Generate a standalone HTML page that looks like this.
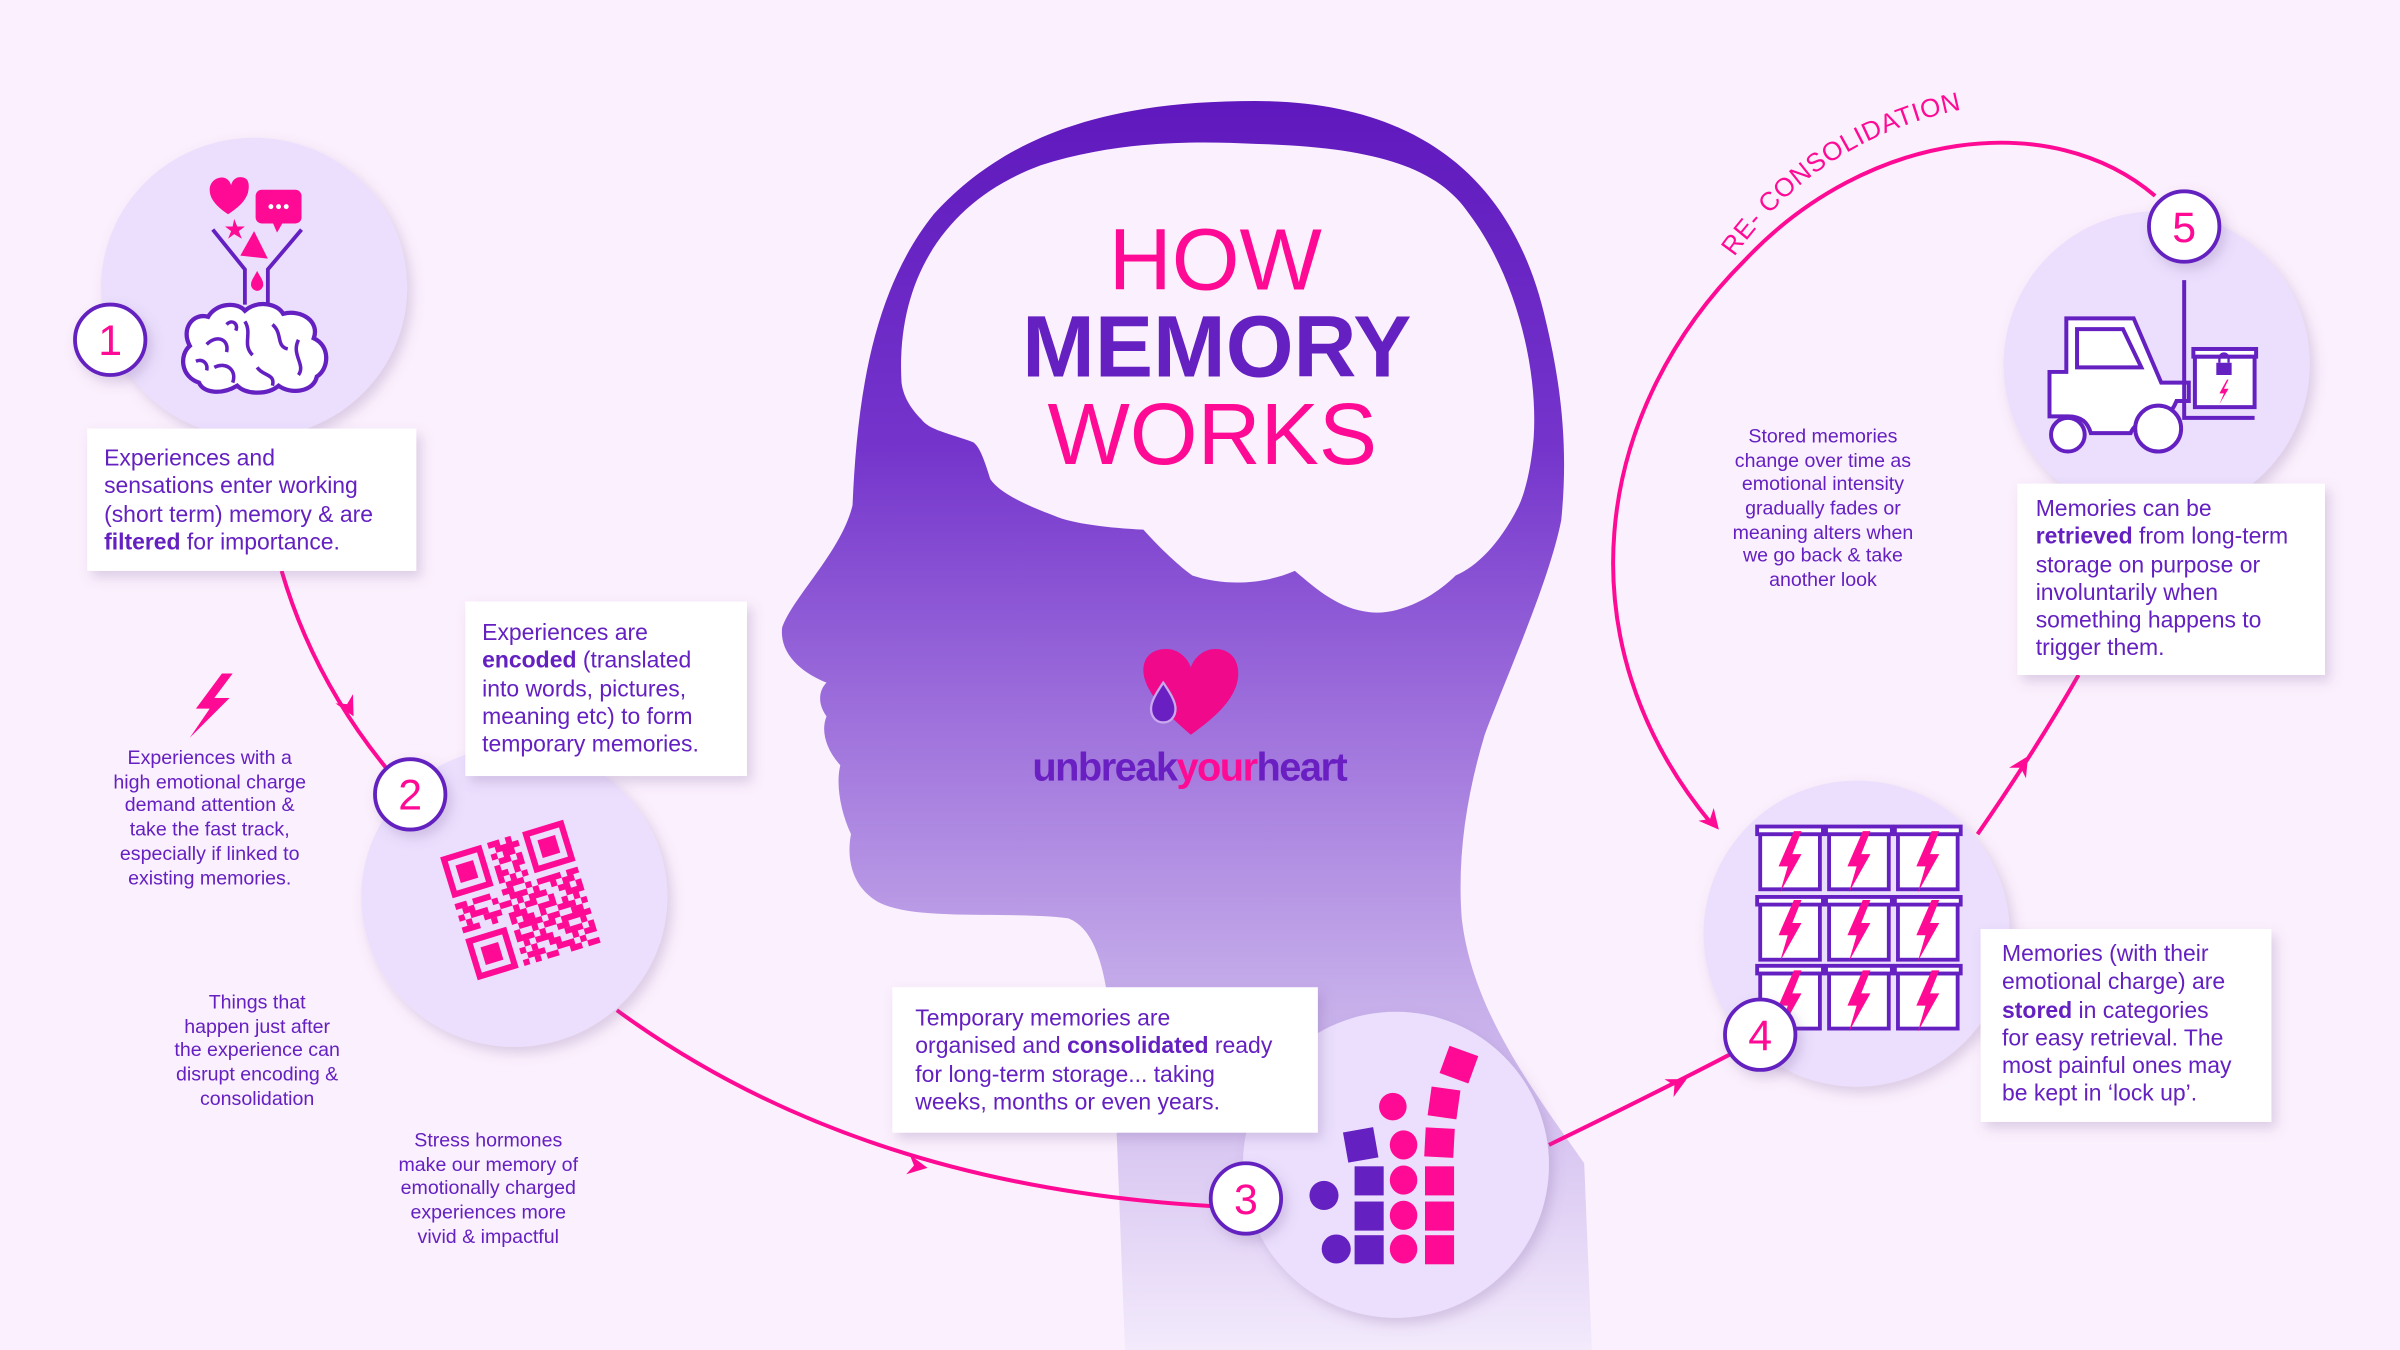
<!DOCTYPE html>
<html><head><meta charset="utf-8">
<style>
html,body{margin:0;padding:0;background:#fbf0fd;}
svg{display:block;}
text{font-family:"Liberation Sans",sans-serif;}
</style></head>
<body>
<svg width="2400" height="1350" viewBox="0 0 1568 882" xmlns="http://www.w3.org/2000/svg">
<defs>
<linearGradient id="hg" x1="0" y1="0" x2="0" y2="1" gradientUnits="objectBoundingBox">
<stop offset="0" stop-color="#5f18bd"/>
<stop offset="0.28" stop-color="#7535cc"/>
<stop offset="0.5" stop-color="#9f72dc"/>
<stop offset="0.72" stop-color="#c6aeea"/>
<stop offset="1" stop-color="#f3eafc"/>
</linearGradient>
<filter id="sh" x="-20%" y="-20%" width="150%" height="150%">
<feDropShadow dx="3" dy="4" stdDeviation="4" flood-color="#7a5a9a" flood-opacity="0.25"/>
</filter>
<path id="bolt" d="M3,-20 L-7,3 L-1,3 L-6,20 L8,-5 L2,-5 L8,-20 Z"/>
<path id="ah" d="M0,0 L-13,-6.5 L-9,0 L-13,6.5 Z"/>
<path id="rcpath" d="M1133,168 C1168,118 1220,82 1290,70"/>
</defs>
<rect width="1568" height="882" fill="#fbf0fd"/>

<!-- head -->
<path d="M735,882 L728,700 C725,640 718,608 698,600 C660,595 600,602 575,590 C556,580 553,560 556,545 C549,530 546,512 549,500 C540,490 536,478 540,468 C533,458 536,450 540,446 C525,440 509,428 511,410 C518,390 550,360 557,330 C560,260 570,190 610,140 C660,85 730,66 820,66 C930,66 990,120 1010,210 C1022,260 1024,300 1020,340 C1012,380 985,440 970,480 C958,520 952,560 955,600 C962,660 1000,710 1035,760 L1040,882 Z" fill="url(#hg)"/>
<path d="M589,250 C585,180 620,130 680,108 C730,92 780,92 820,94 C900,96 940,110 960,140 C990,180 1005,240 1002,286 C1000,310 995,325 992,331 C980,355 965,370 951,376 C935,392 912,402 895,400 C875,398 860,385 846,373 C825,382 800,383 779,376 C768,368 755,355 747,346 C725,345 700,342 689,337 C670,330 653,322 647,313 C643,300 640,292 636,289 C620,283 607,281 602,274 C594,266 590,258 589,250 Z" fill="#fbf0fd"/>

<text x="794" y="189" text-anchor="middle" font-size="57" fill="#ff0a94">HOW</text>
<text x="795" y="246" text-anchor="middle" font-size="57" font-weight="bold" fill="#6420c0">MEMORY</text>
<text x="792" y="303" text-anchor="middle" font-size="57" fill="#ff0a94">WORKS</text>

<!-- logo -->
<path d="M778,480 C760,465 747,450 747,438 C747,428 754,424 762,424 C770,424 776,430 778,436 C780,430 786,424 794,424 C803,424 809,430 809,440 C809,455 795,468 778,480 Z" fill="#f0098a"/>
<path d="M760,446 C756,452 752,458 752,463 C752,469 756,472 760,472 C764,472 768,469 768,463 C768,458 764,452 760,446 Z" fill="#6a1fc2" stroke="#c9a8ee" stroke-width="1.5"/>
<text x="777" y="510" text-anchor="middle" font-size="26" font-weight="bold" letter-spacing="-1"><tspan fill="#6a1fc2">unbreak</tspan><tspan fill="#ff0a94">your</tspan><tspan fill="#6a1fc2">heart</tspan></text>

<!-- connectors -->
<g fill="none" stroke="#ff0a94" stroke-width="2.6">
<path d="M184,373 Q205,445 255,505"/>
<path d="M403,660 Q560,775 792,788"/>
<path d="M1012,748 Q1080,715 1132,688"/>
<path d="M1292,545 Q1330,490 1358,441"/>
<path d="M1408,128 C1340,70 1220,85 1140,170 C1040,270 1020,420 1118,538"/>
</g>
<g fill="#ff0a94">
<use href="#ah" transform="translate(231,468) rotate(62)"/>
<use href="#ah" transform="translate(606,763) rotate(10)"/>
<use href="#ah" transform="translate(1102,705) rotate(-27)"/>
<use href="#ah" transform="translate(1325,494) rotate(-58)"/>
<use href="#ah" transform="translate(1123,542) rotate(50)"/>
</g>
<text font-size="17" fill="#ff0a94" letter-spacing="0.5"><textPath href="#rcpath">RE- CONSOLIDATION</textPath></text>

<!-- circles -->
<g fill="#ebdffd" filter="url(#sh)">
<ellipse cx="166" cy="188" rx="100" ry="98"/>
<ellipse cx="336" cy="586" rx="100" ry="98"/>
<ellipse cx="912" cy="761" rx="100" ry="100"/>
<ellipse cx="1213" cy="610" rx="100" ry="100"/>
<ellipse cx="1409" cy="238" rx="100" ry="100"/>
</g>

<!-- icon 1 -->
<g>
<path d="M149,140 C140,134 137,129 137,124 C137,119 141,116 145,116 C148,116 150,118 151,121 C152,117 155,115 159,116 C163,117 163,122 162,126 C160,132 155,136 149,140 Z" fill="#ff0a94"/>
<rect x="167" y="124" width="30" height="22" rx="4" fill="#ff0a94"/>
<path d="M178,145 L181,152 L185,145 Z" fill="#ff0a94"/>
<circle cx="177" cy="135" r="1.6" fill="#fff"/><circle cx="182" cy="135" r="1.6" fill="#fff"/><circle cx="187" cy="135" r="1.6" fill="#fff"/>
<path d="M153,143 L155,148 L160,148 L156,151 L158,156 L153,153 L149,156 L151,151 L147,148 L152,148 Z" fill="#ff0a94"/>
<path d="M166,151 L175,169 L157,167 Z" fill="#ff0a94"/>
<path d="M168,177 C166,181 164,183 164,186 C164,188 166,190 168,190 C170,190 172,188 172,186 C172,183 170,181 168,177 Z" fill="#ff0a94"/>
<path d="M139,150 L160,176 L160,199 M197,150 L175,176 L175,199" fill="none" stroke="#6420c0" stroke-width="2.5"/>
<path d="M130,250 C118,246 117,232 124,226 C118,215 126,204 136,207 C141,198 155,197 160,203 C168,196 181,198 185,205 C197,202 209,210 205,221 C216,226 215,241 207,246 C205,256 190,258 182,252 C175,258 161,258 155,252 C145,258 133,257 130,250 Z" fill="#fff" stroke="#6420c0" stroke-width="2.8"/>
<path d="M135,225 C142,218 150,222 148,230 M160,210 C165,218 158,225 165,232 M178,212 C185,218 180,226 188,228 M195,222 C190,232 200,238 195,245 M140,240 C148,236 155,242 152,250 M168,240 C172,246 180,244 178,252 M128,236 C133,234 136,238 135,242 M148,212 C152,208 156,212 154,216" fill="none" stroke="#6420c0" stroke-width="2.3"/>
</g>

<!-- icon 2 QR -->
<g transform="translate(340,588) rotate(-17) translate(-42,-42) scale(4)" fill="#ff0a94">
<path d="M0,0h7v7h-7z M1,1v5h5v-5z" fill-rule="evenodd"/><rect x="2" y="2" width="3" height="3"/>
<path d="M14,0h7v7h-7z M15,1v5h5v-5z" fill-rule="evenodd"/><rect x="16" y="2" width="3" height="3"/>
<path d="M0,14h7v7h-7z M1,15v5h5v-5z" fill-rule="evenodd"/><rect x="2" y="16" width="3" height="3"/>
<path d="M8,0h2v1h-2z M11,0h1v1h-1z M9,1h1v1h-1z M10,1h3v1h-3z M8,2h1v1h-1z M10,2h2v1h-2z M9,3h2v1h-2z M12,3h1v1h-1z M8,4h1v1h-1z M11,4h2v1h-2z M8,5h2v1h-2z M11,5h1v1h-1z M8,6h1v1h-1z M10,6h1v1h-1z M12,6h1v1h-1z M9,7h3v1h-3z
M0,8h2v1h-2z M3,8h3v1h-3z M8,8h2v1h-2z M12,8h1v1h-1z M14,8h4v1h-4z M19,8h2v1h-2z
M1,9h2v1h-2z M6,9h1v1h-1z M9,9h3v1h-3z M13,9h1v1h-1z M16,9h1v1h-1z M18,9h2v1h-2z
M0,10h1v1h-1z M2,10h3v1h-3z M7,10h2v1h-2z M10,10h1v1h-1z M12,10h3v1h-3z M17,10h2v1h-2z M20,10h1v1h-1z
M1,11h1v1h-1z M4,11h3v1h-3z M9,11h1v1h-1z M11,11h2v1h-2z M15,11h1v1h-1z M18,11h3v1h-3z
M0,12h3v1h-3z M5,12h1v1h-1z M8,12h3v1h-3z M13,12h3v1h-3z M17,12h1v1h-1z M19,12h1v1h-1z
M8,13h1v1h-1z M10,13h2v1h-2z M13,13h1v1h-1z M16,13h3v1h-3z M20,13h1v1h-1z
M9,14h4v1h-4z M14,14h2v1h-2z M18,14h2v1h-2z
M8,15h1v1h-1z M11,15h1v1h-1z M13,15h2v1h-2z M16,15h5v1h-5z
M8,16h3v1h-3z M12,16h1v1h-1z M15,16h2v1h-2z M19,16h1v1h-1z
M9,17h1v1h-1z M11,17h3v1h-3z M16,17h3v1h-3z M20,17h1v1h-1z
M8,18h1v1h-1z M10,18h1v1h-1z M13,18h2v1h-2z M17,18h1v1h-1z M19,18h2v1h-2z
M9,19h3v1h-3z M14,19h3v1h-3z M18,19h1v1h-1z
M8,20h1v1h-1z M10,20h1v1h-1z M12,20h2v1h-2z M16,20h2v1h-2z M19,20h2v1h-2z"/>
</g>

<!-- icon 3 blocks -->
<g>
<g fill="#6420c0">
<rect x="885" y="762" width="19" height="19"/><rect x="885" y="785" width="19" height="19"/><rect x="885" y="807" width="19" height="19"/>
<rect x="879" y="738" width="20" height="20" transform="rotate(-10 889 748)"/>
<ellipse cx="865" cy="781" rx="9.5" ry="9.5"/><ellipse cx="873" cy="816" rx="9.5" ry="9.5"/>
</g>
<g fill="#ff0a94">
<ellipse cx="917" cy="771" rx="9" ry="9.5"/><ellipse cx="917" cy="794" rx="9" ry="9.5"/><ellipse cx="917" cy="816" rx="9" ry="9.5"/><ellipse cx="917" cy="748" rx="9" ry="9.5"/><ellipse cx="910" cy="723" rx="9" ry="9"/>
<rect x="931" y="762" width="19" height="19"/><rect x="931" y="785" width="19" height="19"/><rect x="931" y="807" width="19" height="19"/>
<rect x="931" y="737" width="19" height="19" transform="rotate(3 940 746)"/>
<rect x="934" y="711" width="19" height="19" transform="rotate(8 943 720)"/>
<rect x="943" y="686" width="20" height="19" transform="rotate(20 953 696)"/>
</g>
</g>

<!-- icon 4 jars -->
<g>
<g fill="#fff" stroke="#6420c0" stroke-width="2.5">
<rect x="1150" y="545" width="39" height="36"/><rect x="1195" y="545" width="39" height="36"/><rect x="1240" y="545" width="39" height="36"/>
<rect x="1150" y="591" width="39" height="36"/><rect x="1195" y="591" width="39" height="36"/><rect x="1240" y="591" width="39" height="36"/>
<rect x="1150" y="636" width="39" height="36"/><rect x="1195" y="636" width="39" height="36"/><rect x="1240" y="636" width="39" height="36"/>
<rect x="1148" y="540" width="43" height="5"/><rect x="1193" y="540" width="43" height="5"/><rect x="1238" y="540" width="43" height="5"/>
<rect x="1148" y="586" width="43" height="5"/><rect x="1193" y="586" width="43" height="5"/><rect x="1238" y="586" width="43" height="5"/>
<rect x="1148" y="631" width="43" height="5"/><rect x="1193" y="631" width="43" height="5"/><rect x="1238" y="631" width="43" height="5"/>
</g>
<g fill="#ff0a94">
<use href="#bolt" x="1169" y="563"/><use href="#bolt" x="1214" y="563"/><use href="#bolt" x="1259" y="563"/>
<use href="#bolt" x="1169" y="608"/><use href="#bolt" x="1214" y="608"/><use href="#bolt" x="1259" y="608"/>
<use href="#bolt" x="1169" y="654"/><use href="#bolt" x="1214" y="654"/><use href="#bolt" x="1259" y="654"/>
</g>
</g>

<!-- icon 5 forklift -->
<g fill="none" stroke="#6420c0" stroke-width="2.6">
<path d="M1350,208 L1394,208 L1412,250 L1430,250 L1430,262 L1422,262 C1418,272 1412,274 1405,274 C1398,274 1393,280 1392,283 L1366,283 C1364,276 1360,272 1351,272 L1339,272 L1339,243 L1350,243 Z" fill="#fff"/>
<path d="M1357,215 L1387,215 L1399,240 L1357,240 Z" fill="#fff"/>
<circle cx="1351" cy="284" r="11" fill="#fff"/>
<circle cx="1410" cy="280" r="15" fill="#fff"/>
<path d="M1427,183 L1427,273 L1473,273"/>
<rect x="1434" y="233" width="39" height="33" fill="#fff"/>
<rect x="1433" y="228" width="41" height="5" fill="#fff"/>
</g>
<rect x="1448" y="237" width="10" height="8" fill="#6420c0"/>
<path d="M1450,237 v-3 a3,3 0 0 1 6,0 v3" fill="none" stroke="#6420c0" stroke-width="1.5"/>
<path d="M1455,248 L1450,257 L1453,257 L1450,264 L1456,254 L1453,254 L1456,248 Z" fill="#ff0a94"/>

<!-- lightning left -->
<path d="M145,440 L128,463 L137,463 L124,482 L150,456 L140,456 L152,440 Z" fill="#ff0a94"/>

<!-- badges -->
<g fill="#fff" stroke="#6420c0" stroke-width="2.5" filter="url(#sh)">
<circle cx="72" cy="222" r="23"/>
<circle cx="268" cy="519" r="23"/>
<circle cx="814" cy="783" r="23"/>
<circle cx="1150" cy="676" r="23"/>
<circle cx="1427" cy="148" r="23"/>
</g>
<g font-size="28" fill="#ff0a94" text-anchor="middle">
<text x="72" y="232">1</text>
<text x="268" y="529">2</text>
<text x="814" y="793">3</text>
<text x="1150" y="686">4</text>
<text x="1427" y="158">5</text>
</g>

<!-- boxes -->
<g fill="#fff" filter="url(#sh)">
<rect x="57" y="280" width="215" height="93"/>
<rect x="304" y="393" width="184" height="114"/>
<rect x="583" y="645" width="278" height="95"/>
<rect x="1294" y="607" width="190" height="126"/>
<rect x="1318" y="316" width="201" height="125"/>
</g>
<g font-size="15" fill="#6420c0">
<text x="68" y="304">Experiences and</text>
<text x="68" y="322">sensations enter working</text>
<text x="68" y="341">(short term) memory &amp; are</text>
<text x="68" y="359"><tspan font-weight="bold">filtered</tspan> for importance.</text>

<text x="315" y="418">Experiences are</text>
<text x="315" y="436"><tspan font-weight="bold">encoded</tspan> (translated</text>
<text x="315" y="455">into words, pictures,</text>
<text x="315" y="473">meaning etc) to form</text>
<text x="315" y="491">temporary memories.</text>

<text x="598" y="670">Temporary memories are</text>
<text x="598" y="688">organised and <tspan font-weight="bold">consolidated</tspan> ready</text>
<text x="598" y="707">for long-term storage... taking</text>
<text x="598" y="725">weeks, months or even years.</text>

<text x="1308" y="628">Memories (with their</text>
<text x="1308" y="646">emotional charge) are</text>
<text x="1308" y="665"><tspan font-weight="bold">stored</tspan> in categories</text>
<text x="1308" y="683">for easy retrieval. The</text>
<text x="1308" y="701">most painful ones may</text>
<text x="1308" y="719">be kept in ‘lock up’.</text>

<text x="1330" y="337">Memories can be</text>
<text x="1330" y="355"><tspan font-weight="bold">retrieved</tspan> from long-term</text>
<text x="1330" y="374">storage on purpose or</text>
<text x="1330" y="392">involuntarily when</text>
<text x="1330" y="410">something happens to</text>
<text x="1330" y="428">trigger them.</text>
</g>

<!-- notes -->
<g font-size="12.8" fill="#6420c0" text-anchor="middle">
<text x="137" y="499">Experiences with a</text>
<text x="137" y="515">high emotional charge</text>
<text x="137" y="530">demand attention &amp;</text>
<text x="137" y="546">take the fast track,</text>
<text x="137" y="562">especially if linked to</text>
<text x="137" y="578">existing memories.</text>

<text x="168" y="659">Things that</text>
<text x="168" y="675">happen just after</text>
<text x="168" y="690">the experience can</text>
<text x="168" y="706">disrupt encoding &amp;</text>
<text x="168" y="722">consolidation</text>

<text x="319" y="749">Stress hormones</text>
<text x="319" y="765">make our memory of</text>
<text x="319" y="780">emotionally charged</text>
<text x="319" y="796">experiences more</text>
<text x="319" y="812">vivid &amp; impactful</text>

<text x="1191" y="289">Stored memories</text>
<text x="1191" y="305">change over time as</text>
<text x="1191" y="320">emotional intensity</text>
<text x="1191" y="336">gradually fades or</text>
<text x="1191" y="352">meaning alters when</text>
<text x="1191" y="367">we go back &amp; take</text>
<text x="1191" y="383">another look</text>
</g>
</svg>
</body></html>
